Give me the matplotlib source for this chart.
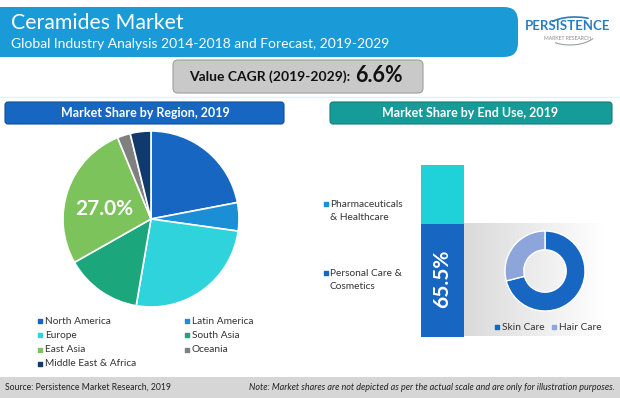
import numpy as np
import matplotlib
matplotlib.use("Agg")
import matplotlib.pyplot as plt
from matplotlib.patches import FancyBboxPatch, Rectangle, Arc
from matplotlib.colors import LinearSegmentedColormap

plt.rcParams['font.family'] = ['Lato', 'DejaVu Sans']

# data
regions = ["North America", "Latin America", "Europe", "South Asia",
           "East Asia", "Oceania", "Middle East & Africa"]
region_share = [22.0, 5.2, 25.5, 14.1, 27.0, 2.4, 3.8]
region_colors = ["#1766c2", "#1b8fd6", "#2fd3db", "#1ca67c",
                 "#7cc35c", "#808080", "#0f3a6b"]

end_use = ["Personal Care &\nCosmetics", "Pharmaceuticals\n& Healthcare"]
end_use_share = [65.5, 34.5]
end_use_colors = ["#1766c2", "#1fd2d9"]

care = ["Skin Care", "Hair Care"]
care_share = [71, 29]
care_colors = ["#1766c2", "#8ea5dc"]

W, H = 620, 398
fig = plt.figure(figsize=(W / 100, H / 100), dpi=100)
bg = fig.add_axes([0, 0, 1, 1])
bg.set_xlim(0, W)
bg.set_ylim(H, 0)
bg.axis("off")


def box(x0, y0, x1, y1, fc, ec="none", r=6, lw=0.8, z=1):
    bg.add_patch(FancyBboxPatch((x0, y0), x1 - x0, y1 - y0,
                                boxstyle=f"round,pad=0,rounding_size={r}",
                                fc=fc, ec=ec, lw=lw, zorder=z))


# header banner
box(-20, 7, 518, 57, "#1a9bd7", r=14)
bg.text(11, 23, "Ceramides Market", color="white", fontsize=15.3, va="center")
bg.text(11, 44, "Global Industry Analysis 2014-2018 and Forecast, 2019-2029",
        color="white", fontsize=10, va="center")

# logo
bg.text(568, 26, "PERSISTENCE", color="#2a7cc0", fontsize=9.5, ha="center",
        va="center", fontweight="bold")
bg.text(568, 38, "MARKET RESEARCH", color="#8a8a8a", fontsize=3.6, ha="center",
        va="center")
bg.add_patch(Arc((575, 30), 60, 26, theta1=200, theta2=320, color="#2a7cc0", lw=1.2))
bg.add_patch(Arc((570, 30), 56, 30, theta1=20, theta2=140, color="#9aa0a6", lw=0.8))

# CAGR box
box(173, 60, 423, 93, "#c9c9c9", ec="#9e9e9e", r=5)
bg.text(189, 77, "Value CAGR (2019-2029): ", fontsize=10, fontweight="bold",
        va="center", color="#111111")
bg.text(355, 76, "6.6%", fontsize=15.5, fontweight="bold", va="center", color="#111111")
bg.plot([0, W], [97, 97], color="#e4f1f7", lw=1)

# section headers
box(5, 102, 284, 124, "#1766c2", ec="#0f4f9a", r=3)
bg.text(145, 113, "Market Share by Region, 2019", color="white", fontsize=9,
        fontweight="bold", ha="center", va="center")
box(330, 102, 612, 124, "#169c98", ec="#0f7f7c", r=3)
bg.text(470, 113, "Market Share by End Use, 2019", color="white", fontsize=9,
        fontweight="bold", ha="center", va="center")

# footer
bg.add_patch(Rectangle((0, 377), W, 21, fc="#d6d6d6", ec="none"))
bg.text(5, 387.5, "Source: Persistence Market Research, 2019", fontsize=6.2,
        va="center", color="#222222")
bg.text(615, 387.5, "Note: Market shares are not depicted as per the actual scale "
        "and are only for illustration purposes.", fontsize=6.5, style="italic",
        ha="right", va="center", color="#222222")

# grey gradient behind donut
grad = LinearSegmentedColormap.from_list("g", ["#dadada", "#ececec", "#ffffff"])
bg.imshow(np.linspace(0, 1, 100)[None, :], cmap=grad, aspect="auto",
          extent=[464, 605, 336, 223], zorder=0)
bg.set_xlim(0, W)
bg.set_ylim(H, 0)


def add_ax(x0, y0, x1, y1):
    return fig.add_axes([x0 / W, (H - y1) / H, (x1 - x0) / W, (y1 - y0) / H])


# region pie
pcx, pcy, pr = 151, 219, 88
ax_pie = add_ax(pcx - pr, pcy - pr, pcx + pr, pcy + pr)
ax_pie.pie(region_share, colors=region_colors, startangle=90, counterclock=False,
           wedgeprops=dict(edgecolor="white", linewidth=1.2))
ax_pie.set_xlim(-1, 1)
ax_pie.set_ylim(-1, 1)
ea = regions.index("East Asia")
ax_pie.text(-0.53, 0.11, f"{region_share[ea]:.1f}%", color="white", fontsize=15,
            fontweight="bold", ha="center", va="center")

# region legend (two columns, row-wise)
for i, (name, c) in enumerate(zip(regions, region_colors)):
    col, row = i % 2, i // 2
    x = 40 + col * 147
    y = 321 + row * 14.3
    bg.scatter([x], [y], marker="s", s=7, color=c, zorder=3)
    bg.text(x + 5, y, name, fontsize=7.3, va="center", color="#333333")

# end-use stacked bar
ax_bar = add_ax(421, 165, 464, 337)
bottom = 0
for v, c in zip(end_use_share, end_use_colors):
    ax_bar.bar([0], [v], bottom=bottom, width=1, color=c)
    bottom += v
ax_bar.set_xlim(-0.5, 0.5)
ax_bar.set_ylim(0, 100)
ax_bar.axis("off")
ax_bar.text(0, end_use_share[0] / 2 + 1, f"{end_use_share[0]}%", rotation=90,
            color="white", fontsize=15, fontweight="bold", ha="center", va="center")

# end-use legend
for name, c, y in zip(end_use, ["#1766c2", "#1b8fd6"], [280, 211]):
    bg.scatter([325.5], [y - 7], marker="s", s=7, color=c, zorder=3)
    bg.text(330, y, name, fontsize=7.3, va="center", color="#333333",
            linespacing=1.5)

# donut
dcx, dcy, dr = 545, 271, 40
ax_d = add_ax(dcx - dr, dcy - dr, dcx + dr, dcy + dr)
ax_d.pie(care_share, colors=care_colors, startangle=90, counterclock=False,
         wedgeprops=dict(width=0.47, edgecolor="white", linewidth=1))
ax_d.set_xlim(-1, 1)
ax_d.set_ylim(-1, 1)

for i, (name, c) in enumerate(zip(care, care_colors)):
    x = 497 + i * 57
    bg.scatter([x], [327], marker="s", s=7, color=c, zorder=3)
    bg.text(x + 5, 327, name, fontsize=7.3, va="center", color="#333333")

fig.savefig("out.png", dpi=100)
